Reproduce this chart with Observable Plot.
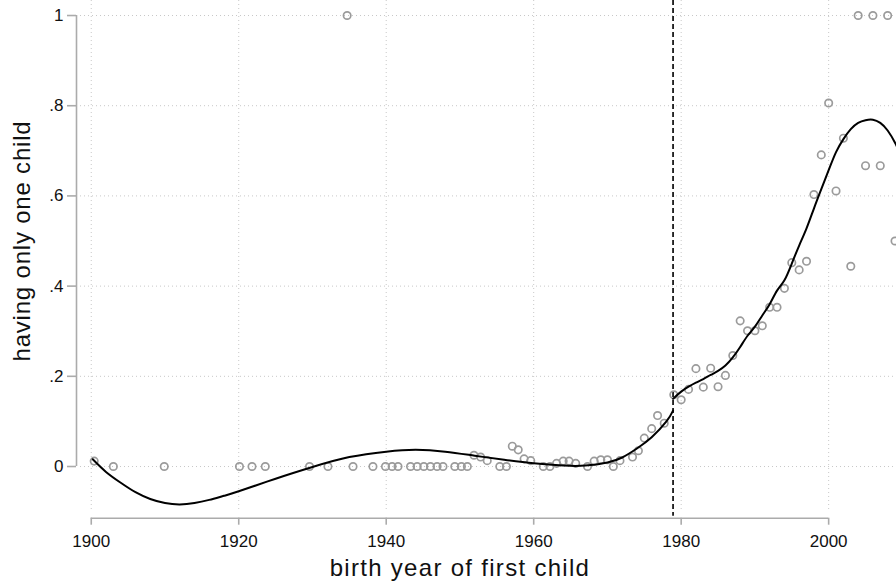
<!DOCTYPE html>
<html>
<head>
<meta charset="utf-8">
<script src="https://cdn.jsdelivr.net/npm/d3@7"></script>
<script src="https://cdn.jsdelivr.net/npm/@observablehq/plot@0.6"></script>
<style>
  html, body { margin: 0; padding: 0; background: #fff; }
  #chart svg { display: block; font-family: "Liberation Sans", Arial, sans-serif; }
</style>
</head>
<body>
<div id="chart"></div>
<script>
// Observed shares (binned scatter) — left of cutoff
const obsYearsLeft = [1900.4, 1903.0, 1909.9, 1920.1, 1921.8, 1923.6, 1929.6, 1932.1, 1934.7, 1935.5,
  1938.2, 1939.9, 1940.8, 1941.6, 1943.3, 1944.2, 1945.1, 1946.0, 1946.9, 1947.7,
  1949.3, 1950.2, 1951.0, 1951.9, 1952.8, 1953.7, 1955.4, 1956.3, 1957.1, 1957.9,
  1958.7, 1959.6, 1961.3, 1962.2, 1963.1, 1964.0, 1964.8, 1965.7, 1967.3, 1968.2,
  1969.1, 1970.0, 1970.8, 1971.7, 1973.4, 1974.2, 1975.0, 1976.0, 1976.8, 1977.7];
const obsSharesLeft = [0.012, 0, 0, 0, 0, 0, 0, 0, 1, 0,
  0, 0, 0, 0, 0, 0, 0, 0, 0, 0,
  0, 0, 0, 0.025, 0.021, 0.013, 0, 0, 0.045, 0.037,
  0.017, 0.013, 0, 0, 0.007, 0.012, 0.012, 0.007, 0, 0.012,
  0.015, 0.015, 0, 0.013, 0.021, 0.035, 0.063, 0.084, 0.113, 0.096];
// Observed shares — right of cutoff
const obsYearsRight = [1979, 1980, 1981, 1982, 1983, 1984, 1985, 1986, 1987, 1988,
  1989, 1990, 1991, 1992, 1993, 1994, 1995, 1996, 1997, 1998,
  1999, 2000, 2001, 2002, 2003, 2004, 2005, 2006, 2007, 2008, 2009];
const obsSharesRight = [0.159, 0.148, 0.171, 0.217, 0.176, 0.218, 0.177, 0.202, 0.246, 0.323,
  0.301, 0.301, 0.312, 0.353, 0.353, 0.395, 0.452, 0.436, 0.455, 0.603,
  0.691, 0.806, 0.611, 0.728, 0.444, 1, 0.667, 1, 0.667, 1, 0.5];

// Fitted polynomial
const fitYearsLeft = [1900.2, 1902, 1904, 1906, 1908, 1910, 1912, 1914, 1916, 1918, 1920, 1925, 1930, 1935,
  1940, 1944, 1948, 1952, 1956, 1960, 1964, 1967, 1970, 1972, 1974, 1976, 1978, 1978.9];
const fitValuesLeft = [0.016, -0.012, -0.036, -0.057, -0.072, -0.081, -0.084, -0.081, -0.074, -0.065, -0.055, -0.027, -0.001, 0.021,
  0.033, 0.037, 0.033, 0.024, 0.015, 0.007, 0.002, 0.002, 0.009, 0.02, 0.04, 0.065, 0.1, 0.124];
const fitYearsRight = [1978.9, 1980, 1981, 1982, 1983, 1984, 1985, 1986, 1987, 1988, 1989, 1990, 1991, 1992,
  1993, 1994, 1995, 1996, 1997, 1998, 1999, 2000, 2001, 2002, 2003, 2004, 2005, 2006, 2007, 2008, 2009, 2009.5];
const fitValuesRight = [0.150, 0.166, 0.177, 0.186, 0.194, 0.203, 0.212, 0.224, 0.242, 0.265, 0.29, 0.31, 0.335, 0.36,
  0.39, 0.413, 0.45, 0.49, 0.528, 0.572, 0.615, 0.657, 0.697, 0.726, 0.748, 0.762, 0.768, 0.769, 0.762, 0.745, 0.718, 0.70];

const cutoffYear = [1978.9];
const xTicks = [1900, 1920, 1940, 1960, 1980, 2000];
const yTicks = [0, 0.2, 0.4, 0.6, 0.8, 1];
const yTickLabels = ["0", ".2", ".4", ".6", ".8", "1"];
const xTitle = "birth year of first child";
const yTitle = "having only one child";
const xDomain = [1898, 2009.2];
const yDomain = [-0.1146, 1.0333];

const points = obsYearsLeft.map((x, i) => ({x, y: obsSharesLeft[i]}))
  .concat(obsYearsRight.map((x, i) => ({x, y: obsSharesRight[i]})));
const fitL = fitYearsLeft.map((x, i) => ({x, y: fitValuesLeft[i]}));
const fitR = fitYearsRight.map((x, i) => ({x, y: fitValuesRight[i]}));
const xMid = (xTicks[0] + xTicks[xTicks.length - 1]) / 2;
const yMid = (yTicks[0] + yTicks[yTicks.length - 1]) / 2;

const axisGray = "#ababab";
const gridGray = "#c8c8c8";

const chart = Plot.plot({
  width: 896,
  height: 581,
  marginLeft: 76,
  marginRight: 0,
  marginTop: 0,
  marginBottom: 63.3,
  style: {fontFamily: "'Liberation Sans', Arial, sans-serif", background: "#fff", overflow: "visible"},
  x: {domain: xDomain, axis: null, label: null},
  y: {domain: yDomain, axis: null, label: null},
  marks: [
    // grid
    Plot.ruleY(yTicks, {stroke: gridGray, strokeDasharray: "1,3", strokeWidth: 1, insetLeft: 4}),
    Plot.ruleX(xTicks, {stroke: gridGray, strokeDasharray: "1,3", strokeWidth: 1, insetBottom: 6}),
    // axis lines
    Plot.ruleY([yDomain[0]], {x1: xTicks[0], x2: xTicks[xTicks.length - 1], stroke: axisGray, strokeWidth: 1.6}),
    Plot.ruleX([xDomain[0]], {y1: yTicks[0], y2: yTicks[yTicks.length - 1], stroke: axisGray, strokeWidth: 1.6}),
    Plot.axisX({ticks: xTicks, tickFormat: d => String(d), tickSize: 7, tickPadding: 10, stroke: axisGray,
      strokeWidth: 1.6, fill: "#111", fontSize: 17, label: null}),
    Plot.axisY({ticks: yTicks, tickFormat: (d, i) => yTickLabels[i], tickSize: 9, tickPadding: 4, stroke: axisGray,
      strokeWidth: 1.6, fill: "#111", fontSize: 17, label: null}),
    // cutoff
    Plot.ruleX(cutoffYear, {stroke: "#1a1a1a", strokeWidth: 1.8, strokeDasharray: "5,3", insetBottom: 2}),
    // points
    Plot.dot(points, {x: "x", y: "y", r: 3.7, stroke: "#9b9b9b", strokeWidth: 1.7, fill: "none", clip: true}),
    // fits
    Plot.line(fitL, {x: "x", y: "y", curve: "natural", stroke: "#000", strokeWidth: 2, clip: true}),
    Plot.line(fitR, {x: "x", y: "y", curve: "natural", stroke: "#000", strokeWidth: 2, clip: true}),
    // titles
    Plot.text([xTitle], {x: () => xMid, frameAnchor: "bottom", lineAnchor: "middle", textAnchor: "middle",
      dy: 50, fontSize: 24, fill: "#111"}),
    Plot.text([yTitle], {y: () => yMid, frameAnchor: "left", lineAnchor: "middle", textAnchor: "middle",
      dx: -54, rotate: -90, fontSize: 24, fill: "#111"})
  ]
});
// letter spacing for axis titles
d3.select(chart).selectAll("text").filter(function() {
  return this.textContent === xTitle;
}).style("letter-spacing", "1.3px");
d3.select(chart).selectAll("text").filter(function() {
  return this.textContent === yTitle;
}).style("letter-spacing", "0.8px");
document.getElementById("chart").appendChild(chart);
</script>
</body>
</html>
